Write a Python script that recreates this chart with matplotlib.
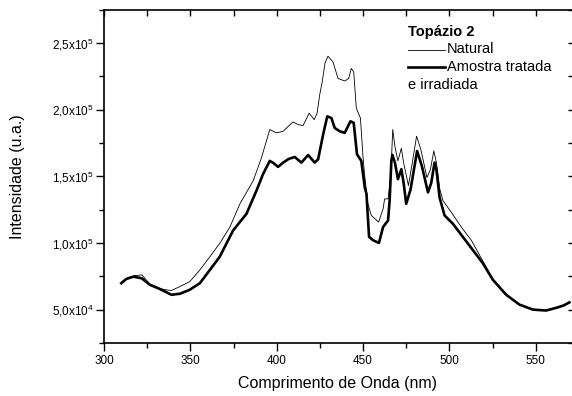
import numpy as np
import matplotlib
matplotlib.use("Agg")
import matplotlib.pyplot as plt
from matplotlib.lines import Line2D
from matplotlib.ticker import MultipleLocator, FixedLocator, FixedFormatter

plt.rcParams['font.family'] = ['Liberation Sans', 'DejaVu Sans']
plt.rcParams['mathtext.fontset'] = 'custom'
plt.rcParams['mathtext.rm'] = 'Liberation Sans'

# Natural (linha fina): comprimento de onda (nm), intensidade (x1000)
wl_nat = [310, 314, 318, 322, 326.6, 332, 335, 339, 344, 349.7, 355.5, 361.3, 367,
          372.9, 378.7, 386.4, 391.2, 396, 399.9, 403.7, 405.7, 409.5, 412.4, 415.3,
          418.8, 421.7, 423.4, 424.9, 426.4, 428, 429.7, 432.6, 435.5, 439.4, 441.7,
          443.2, 444.6, 446.1, 448.5, 450, 451, 452.8, 454.8, 459, 461.6, 462.5, 464.5,
          466, 467.2, 468.5, 470.2, 472.2, 473.5, 476.3, 478.5, 481, 483.5, 487, 489,
          491, 492.5, 494.5, 496.3, 501.1, 506.9, 512.7, 518.5, 523.3, 525.2, 532.9,
          540.6, 548.3, 556, 561.8, 566, 569.5]
int_nat = [70, 74, 75.5, 76, 69, 66, 65, 64.3, 67.3, 71, 79.7, 89.6, 99.6,
           111.9, 129.3, 146.6, 163.9, 185, 182.5, 183.7, 186.2, 190.7, 188.7, 188,
           197.3, 192.4, 197.3, 211, 221, 235, 240, 235.7, 223.3, 221.4, 223.3,
           230.8, 228.3, 201, 193.6, 164, 150, 129.3, 120.6, 115.6, 125.5, 133, 133,
           149, 185, 172, 161.5, 171, 160, 143, 160, 180, 170, 149, 155,
           169, 160, 140, 131.7, 123, 111.9, 102, 88.4, 77.3, 73, 61.5,
           54, 50.3, 49.5, 51.5, 53.2, 55.5]

# Amostra tratada e irradiada (linha grossa)
wl_trat = [310, 313, 317, 321.8, 326.6, 332.4, 339.1, 344, 349.7, 355.5, 361.3, 367,
           374.8, 382.5, 388.3, 392.1, 396, 398, 400.8, 403.7, 407, 410.5, 414.3, 418.2,
           422, 424, 426.9, 429.3, 431.7, 433.6, 436.5, 439.4, 442.7, 444.6, 446.5, 449,
           451, 452, 453.5, 455.8, 459.2, 461.6, 464.5, 465.4, 466.4, 467, 468.5, 470.2,
           472.2, 473.5, 475, 477.5, 481.3, 484, 487.6, 489.5, 491.4, 492.5, 494.3,
           497.2, 502, 507.8, 513.6, 519.4, 525.2, 532.9, 540.6, 548.3, 556, 561.8,
           566, 569.5]
int_trat = [69.8, 73, 74.7, 73.5, 68.6, 65.4, 61.1, 61.9, 64.9, 69.8, 79.7, 89.6,
            109.4, 121.8, 139.2, 151.6, 161.5, 160, 157, 160.2, 163, 164.4, 160.2, 165.9,
            160.2, 162.7, 181.3, 194.9, 193.6, 186.2, 183.7, 182.5, 191.2, 190, 166.4, 161.5,
            141.6, 136.7, 104.5, 102, 100, 111.9, 116.9, 131.7, 161.5, 166, 160, 147.8,
            155.3, 145, 129.3, 140, 168.9, 158, 137.9, 145, 160.2, 155, 134.2,
            120.6, 114.4, 104.5, 94.6, 84.7, 72.3, 61.1, 53.7, 50, 49.3, 51.3,
            53, 55.4]

yticks = [5e4, 1e5, 1.5e5, 2e5, 2.5e5]
ytick_labels = [r'5,0x10$^4$', r'1,0x10$^5$', r'1,5x10$^5$', r'2,0x10$^5$', r'2,5x10$^5$']

fig = plt.figure(figsize=(5.72, 3.96), dpi=100)
ax = fig.add_axes([0.1818, 0.134, 0.8182, 0.842])

ax.plot(wl_nat, np.array(int_nat) * 1e3, color='black', lw=0.6)
ax.plot(wl_trat, np.array(int_trat) * 1e3, color='black', lw=1.9)

ax.set_xlim(300, 571)
ax.set_ylim(2.5e4, 2.75e5)
ax.xaxis.set_major_locator(MultipleLocator(50))
ax.xaxis.set_minor_locator(MultipleLocator(25))
ax.yaxis.set_major_locator(FixedLocator(yticks))
ax.yaxis.set_major_formatter(FixedFormatter(ytick_labels))
ax.yaxis.set_minor_locator(MultipleLocator(2.5e4))

ax.tick_params(which='major', direction='out', length=6, width=1, labelsize=8.5, pad=2.5)
ax.tick_params(which='minor', direction='out', length=3.5, width=1)
ax.tick_params(axis='y', which='major', pad=1.5)

ax.spines['right'].set_visible(False)
for s in ['left', 'bottom', 'top']:
    ax.spines[s].set_linewidth(1.2)

top = ax.secondary_xaxis('top')
top.xaxis.set_major_locator(MultipleLocator(50))
top.xaxis.set_minor_locator(MultipleLocator(25))
top.tick_params(which='both', direction='in', length=4, width=1, labeltop=False)
top.spines['top'].set_visible(False)

right = ax.secondary_yaxis('right')
right.yaxis.set_major_locator(FixedLocator(yticks))
right.yaxis.set_minor_locator(MultipleLocator(2.5e4))
right.tick_params(which='both', direction='in', length=3, width=1, labelright=False)
right.spines['right'].set_visible(False)

ax.set_xlabel('Comprimento de Onda (nm)', fontsize=11.5)
ax.set_ylabel('Intensidade (u.a.)', fontsize=11.5)
ax.xaxis.set_label_coords(0.5, -0.098)
ax.yaxis.set_label_coords(-0.168, 0.5)

# legenda no estilo Origin
W, H = 572.0, 396.0
fs = 10.5
fig.text(408 / W, 1 - 32 / H, 'Topázio 2', fontsize=fs, fontweight='bold', va='center')
fig.add_artist(Line2D([408 / W, 445 / W], [1 - 50 / H, 1 - 50 / H], color='black', lw=0.6))
fig.text(447 / W, 1 - 49 / H, 'Natural', fontsize=fs, va='center')
fig.add_artist(Line2D([408 / W, 445 / W], [1 - 67 / H, 1 - 67 / H], color='black', lw=1.9))
fig.text(447 / W, 1 - 67 / H, 'Amostra tratada', fontsize=fs, va='center')
fig.text(408 / W, 1 - 85 / H, 'e irradiada', fontsize=fs, va='center')

fig.savefig('out.png', dpi=100)
